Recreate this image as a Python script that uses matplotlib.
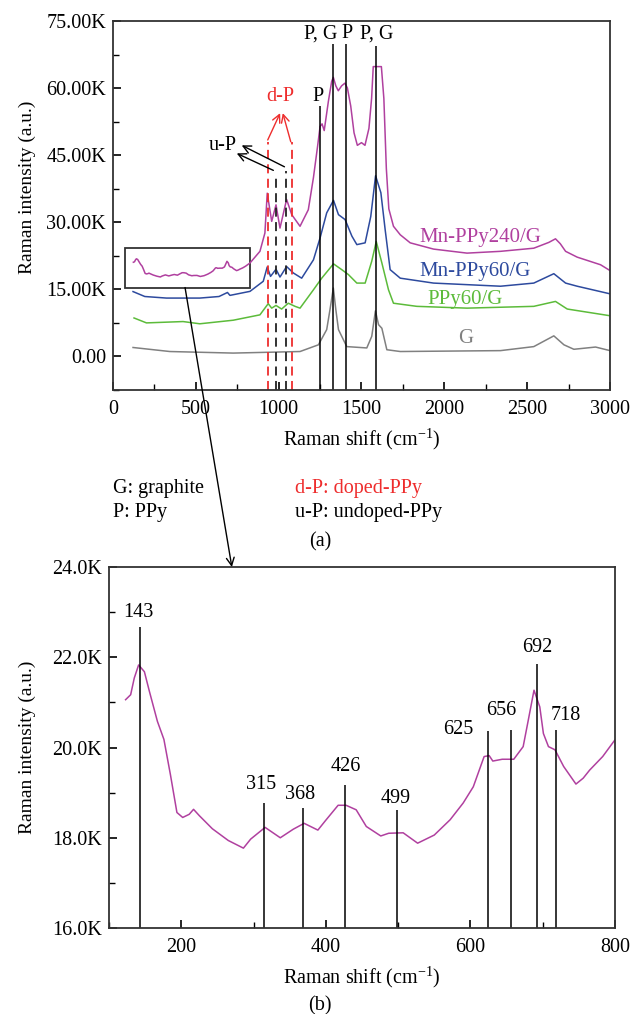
import numpy as np
import matplotlib
matplotlib.use("Agg")
from matplotlib import pyplot as plt
from matplotlib.patches import Rectangle, ConnectionPatch
from matplotlib.ticker import FuncFormatter, MultipleLocator

plt.rcParams['font.family'] = ['Liberation Serif', 'DejaVu Serif']
plt.rcParams['mathtext.fontset'] = 'custom'
plt.rcParams['mathtext.rm'] = 'Liberation Serif'
plt.rcParams['mathtext.it'] = 'Liberation Serif:italic'

# ---- (b) zoomed Mn-PPy240/G spectrum, 100-800 cm-1 (intensity in K) ----
b_shift = [123, 130, 135, 141, 149, 156, 167, 176, 185, 194, 202, 211, 217, 225, 243,
           265, 286, 296, 316, 337, 355, 370, 389, 399, 417, 428, 442, 456, 476, 487,
           507, 527, 550, 572, 590, 604, 619, 626, 631, 644, 660, 673, 680, 688, 696,
           701, 708, 717, 729, 746, 756, 765, 783, 800]
b_int = [21.06, 21.17, 21.54, 21.83, 21.68, 21.24, 20.58, 20.18, 19.40, 18.56, 18.45,
         18.52, 18.63, 18.49, 18.20, 17.94, 17.77, 17.97, 18.23, 18.00, 18.19, 18.32,
         18.17, 18.37, 18.72, 18.72, 18.62, 18.25, 18.04, 18.10, 18.11, 17.88, 18.06,
         18.40, 18.77, 19.13, 19.80, 19.82, 19.70, 19.74, 19.74, 20.02, 20.60, 21.27,
         20.90, 20.31, 20.02, 19.95, 19.58, 19.19, 19.32, 19.50, 19.80, 20.17]

b_peaks = [143, 315, 368, 426, 499, 625, 656, 692, 718]
b_peak_top = [22.66, 18.76, 18.65, 19.18, 18.61, 20.36, 20.38, 21.85, 20.38]
b_label_x = [140, 310, 365, 428, 497, 583, 643, 692, 732]
b_label_y = [23.0, 19.18, 18.96, 19.57, 18.88, 20.40, 20.82, 22.21, 20.70]

# ---- (a) full spectra (intensity in K) ----
mn240_shift_hi = [827, 887, 917, 931, 958, 984, 1008, 1048, 1079, 1129, 1179, 1210, 1235,
                  1250, 1262, 1275, 1300, 1320, 1330, 1345, 1360, 1380, 1400, 1415, 1435,
                  1455, 1475, 1500, 1521, 1545, 1561, 1571, 1620, 1635, 1650, 1665, 1693,
                  1734, 1794, 1935, 2137, 2339, 2540, 2631, 2671, 2700, 2732, 2802, 2943, 3000]
mn240_int_hi = [20.9, 23.5, 27.6, 36.5, 30.2, 33.9, 28.7, 35.1, 31.7, 29.1, 32.8, 40.0, 47.0,
                51.4, 52.0, 50.5, 57.0, 61.5, 62.4, 60.5, 59.4, 60.5, 61.1, 60.0, 56.0,
                50.0, 47.2, 47.8, 47.2, 51.0, 57.7, 64.8, 64.8, 57.7, 42.0, 33.0, 29.1,
                27.2, 25.4, 24.0, 23.1, 23.5, 24.2, 25.5, 26.3, 25.2, 23.5, 22.2, 20.5, 19.2]

mn60_shift = [121, 192, 323, 524, 640, 691, 706, 827, 907, 931, 951, 984, 1008, 1048, 1089,
              1139, 1210, 1250, 1290, 1331, 1361, 1401, 1442, 1472, 1522, 1556, 1585, 1617,
              1643, 1673, 1734, 1935, 2339, 2540, 2661, 2732, 2802, 3000]
mn60_int = [14.5, 13.4, 13.05, 13.05, 13.4, 14.3, 13.65, 14.55, 16.8, 20.0, 17.9, 19.5, 17.75,
            20.1, 18.65, 17.5, 21.6, 26.5, 32.1, 34.9, 31.7, 30.6, 26.9, 25.0, 25.4, 31.3,
            40.4, 36.6, 28.3, 19.4, 17.5, 16.4, 15.7, 16.4, 18.5, 16.4, 15.7, 14.0]

ppy60_shift = [127, 202, 423, 524, 726, 887, 937, 958, 984, 1018, 1058, 1099, 1129, 1210, 1260,
               1331, 1381, 1421, 1472, 1522, 1562, 1589, 1623, 1663, 1693, 1834, 2137, 2540,
               2671, 2742, 3000]
ppy60_int = [8.6, 7.5, 7.8, 7.3, 8.1, 9.3, 11.8, 10.8, 11.4, 10.6, 11.9, 11.2, 10.8, 14.9, 17.5,
             20.7, 19.4, 18.3, 16.4, 16.4, 21.3, 25.7, 20.9, 14.9, 11.9, 11.2, 10.8, 11.2,
             12.3, 10.6, 9.1]

g_shift = [121, 343, 726, 1129, 1240, 1290, 1310, 1330, 1345, 1361, 1411, 1532, 1562, 1584,
           1603, 1623, 1653, 1734, 2339, 2540, 2661, 2722, 2782, 2913, 3000]
g_int = [2.0, 1.1, 0.75, 1.1, 2.6, 6.0, 10.5, 15.3, 10.5, 6.0, 2.2, 1.9, 4.5, 10.2, 7.1, 6.3,
         1.5, 1.1, 1.3, 2.2, 4.6, 2.6, 1.6, 2.1, 1.3]

solid_peaks = [1250, 1330, 1405, 1590]
solid_top = [55.9, 69.9, 69.9, 69.4]
doped_peaks = [935, 1080]
undoped_peaks = [985, 1045]

magenta = '#B0409F'
blue = '#2D4A9E'
green = '#5CBB3A'
gray = '#808080'
red = '#EE2D2D'

fig = plt.figure(figsize=(6.38, 10.14), dpi=100)
ax1 = fig.add_axes([0.1771, 0.6154, 0.779, 0.3639])
ax2 = fig.add_axes([0.1708, 0.0848, 0.7931, 0.356])

mn240_shift = [s for s in b_shift] + mn240_shift_hi
mn240_int = [v for v in b_int] + mn240_int_hi
k = lambda v: np.array(v) * 1000

ax1.plot(g_shift, k(g_int), color=gray, lw=1.1)
ax1.plot(ppy60_shift, k(ppy60_int), color=green, lw=1.1)
ax1.plot(mn60_shift, k(mn60_int), color=blue, lw=1.1)
ax1.plot(mn240_shift, k(mn240_int), color=magenta, lw=1.1)

ax1.vlines(solid_peaks, -7500, k(solid_top), color='black', lw=1.1)
ax1.vlines(doped_peaks, -7500, 48000, color=red, lw=1.3, linestyles=(0, (5, 3)))
ax1.vlines(undoped_peaks, -7500, [40100, 41400], color='#222222', lw=1.3, linestyles=(0, (5, 3)))

fs = 14.5
ax1.text(1255, 70000, 'P, G', ha='center', va='bottom', fontsize=fs)
ax1.text(1411, 70000, 'P', ha='center', va='bottom', fontsize=fs)
ax1.text(1592, 70000, 'P, G', ha='center', va='bottom', fontsize=fs)
ax1.text(1238, 56000, 'P', ha='center', va='bottom', fontsize=fs)
ax1.text(1009, 58100, 'd-P', ha='center', va='center', fontsize=fs, color=red)
ax1.text(662, 47200, 'u-P', ha='center', va='center', fontsize=fs)

arrow_kw = dict(arrowstyle='->', lw=1.0, mutation_scale=14, shrinkA=0, shrinkB=0)
ax1.annotate('', xy=(1009, 54400), xytext=(934, 48400), arrowprops=dict(color=red, **arrow_kw))
ax1.annotate('', xy=(1025, 54400), xytext=(1073, 48000), arrowprops=dict(color=red, **arrow_kw))
ax1.annotate('', xy=(747, 45400), xytext=(968, 41600), arrowprops=dict(color='black', **arrow_kw))
ax1.annotate('', xy=(777, 47200), xytext=(1035, 42400), arrowprops=dict(color='black', **arrow_kw))

ax1.text(2217, 26600, 'Mn-PPy240/G', color=magenta, fontsize=15, ha='center', va='center')
ax1.text(2187, 18900, 'Mn-PPy60/G', color=blue, fontsize=15, ha='center', va='center')
ax1.text(2126, 12750, 'PPy60/G', color=green, fontsize=15, ha='center', va='center')
ax1.text(2130, 4100, 'G', color=gray, fontsize=15, ha='center', va='center')

ax1.add_patch(Rectangle((70, 15400), 760, 8800, fill=False, ec='#333333', lw=1.3))

ax1.set_xlim(0, 3000)
ax1.set_ylim(-7500, 75000)
ax1.xaxis.set_major_locator(MultipleLocator(500))
ax1.xaxis.set_minor_locator(MultipleLocator(250))
ax1.yaxis.set_major_locator(MultipleLocator(15000))
ax1.yaxis.set_minor_locator(MultipleLocator(7500))
ax1.yaxis.set_major_formatter(FuncFormatter(lambda v, p: '0.00' if abs(v) < 1 else f'{v/1000:.2f}K'))
ax1.set_xlabel('Raman shift (cm$^{-1}$)', fontsize=14.5, labelpad=6)
ax1.set_ylabel('Raman intensity (a.u.)', fontsize=14)
ax1.yaxis.set_label_coords(-0.155, 0.55)

# (b)
ax2.plot(b_shift, k(b_int), color=magenta, lw=1.1)
ax2.vlines(b_peaks, 16000, k(b_peak_top), color='black', lw=1.1)
for lab, lx, ly in zip(b_peaks, b_label_x, b_label_y):
    ax2.text(lx, ly * 1000, str(lab), ha='center', va='center', fontsize=fs)
ax2.set_xlim(100, 800)
ax2.set_ylim(16000, 24000)
ax2.xaxis.set_major_locator(MultipleLocator(200))
ax2.xaxis.set_minor_locator(MultipleLocator(100))
ax2.yaxis.set_major_locator(MultipleLocator(2000))
ax2.yaxis.set_minor_locator(MultipleLocator(1000))
ax2.yaxis.set_major_formatter(FuncFormatter(lambda v, p: f'{v/1000:.1f}K'))
ax2.set_xlabel('Raman shift (cm$^{-1}$)', fontsize=14.5, labelpad=6)
ax2.set_ylabel('Raman intensity (a.u.)', fontsize=14)
ax2.yaxis.set_label_coords(-0.144, 0.5)

for ax in (ax1, ax2):
    for s in ax.spines.values():
        s.set_linewidth(1.3)
        s.set_color('#333333')
    ax.tick_params(which='both', direction='in', top=False, right=False, labelsize=14.5)
    ax.tick_params(axis='x', which='major', pad=7)
    ax.tick_params(axis='y', which='major', pad=5)
    ax.tick_params(which='major', length=6, width=1.2)
    ax.tick_params(which='minor', length=4, width=1.0)

con = ConnectionPatch(xyA=(435, 15400), coordsA=ax1.transData,
                      xyB=(270, 24000), coordsB=ax2.transData,
                      arrowstyle='->', lw=1.0, color='black', mutation_scale=14)
fig.add_artist(con)

fig.text(113 / 638, 1 - 488 / 1014, 'G: graphite', fontsize=fs, va='center')
fig.text(113 / 638, 1 - 513 / 1014, 'P: PPy', fontsize=fs, va='center')
fig.text(295 / 638, 1 - 488 / 1014, 'd-P: doped-PPy', fontsize=fs, va='center', color=red)
fig.text(295 / 638, 1 - 513 / 1014, 'u-P: undoped-PPy', fontsize=fs, va='center')
fig.text(320 / 638, 1 - 542 / 1014, '(a)', fontsize=fs, va='center', ha='center')
fig.text(320 / 638, 1 - 1006 / 1014, '(b)', fontsize=fs, va='center', ha='center')

fig.savefig('out.png', dpi=100)
